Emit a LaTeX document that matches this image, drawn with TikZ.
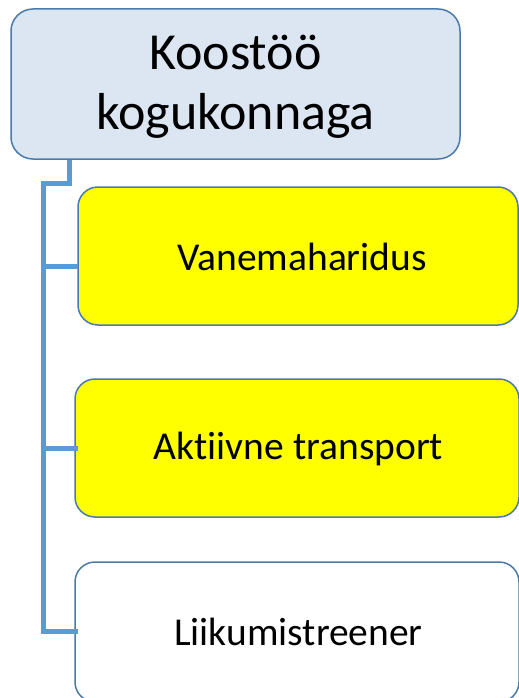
\documentclass[tikz,border=0pt]{standalone}
\usepackage{fontspec}
\setmainfont{Carlito}[Ligatures=NoCommon]
\definecolor{topfill}{HTML}{DCE6F2}
\definecolor{boxline}{HTML}{4A7AAB}
\definecolor{conncol}{HTML}{5B9BD5}
\definecolor{yel}{HTML}{FFFF00}
\tikzset{
  topbox/.style={draw=boxline, line width=1.5bp, fill=topfill, rounded corners=22bp},
  childbox/.style={draw=boxline, line width=1.5bp, rounded corners=20bp},
  conn/.style={draw=conncol, line width=5bp, line join=miter},
  childtext/.style={font=\fontsize{39.5bp}{47bp}\selectfont, inner sep=0}
}
\begin{document}
\begin{tikzpicture}[x=1bp,y=-1bp]
\useasboundingbox (0,0) rectangle (519,698);
\clip (0,0) rectangle (519,698);
\fill[white] (0,0) rectangle (519,698);
% boxes
\draw[topbox] (11,9) rectangle (460,159);
\node[align=center, font=\fontsize{52bp}{60bp}\selectfont, inner sep=0] (top) at (235.5,87) {Koostöö\\kogukonnaga};
\draw[childbox, fill=yel] (78,187) rectangle (518,325);
\node[childtext] (b1) at (302,257) {Vanemaharidus};
\draw[childbox, fill=yel] (75,379) rectangle (519,517);
\node[childtext] (b2) at (298.5,449) {Aktiivne transport};
\draw[childbox, fill=white] (75,562) rectangle (519,702);
\node[childtext] (b3) at (298.5,632) {Liikumistreener};
% connectors
\coordinate (ts) at (69.5,159.5);
\coordinate (j) at (43.5,183);
\coordinate (e1) at (78,266.5);
\coordinate (e2) at (78,448);
\coordinate (e3) at (78,631);
\draw[conn] (ts) |- (j) |- (e3);
\draw[conn] (j |- e1) -- (e1);
\draw[conn] (j |- e2) -- (e2);
\end{tikzpicture}
\end{document}
